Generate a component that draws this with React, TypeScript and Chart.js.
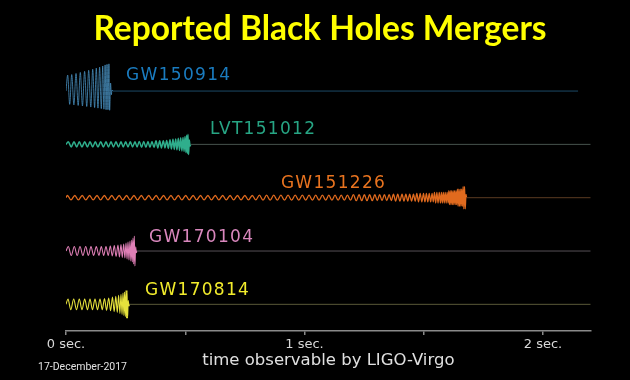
import React, { useEffect, useRef } from 'react';
import { Chart, registerables } from 'chart.js';

Chart.register(...registerables);

// ---------- text ----------
const TITLE = 'Reported Black Holes Mergers';
const X_TITLE = 'time observable by LIGO-Virgo';
const DATE_NOTE = '17-December-2017';
const EVENTS = ['GW150914', 'LVT151012', 'GW151226', 'GW170104', 'GW170814'];
const X_TICK_VALUES = [0, 0.5, 1, 1.5, 2];
const X_TICK_LABELS = ['0 sec.', '', '1 sec.', '', '2 sec.'];

// ---------- waveform data: time (s) of each extremum and strain (arb. units) ----------
const t150914 = [0,
  0.007, 0.0155, 0.024, 0.033, 0.042, 0.051, 0.060, 0.069, 0.078, 0.087,
  0.095, 0.104, 0.112, 0.120, 0.127, 0.134, 0.141, 0.148, 0.154, 0.159,
  0.164, 0.168, 0.172, 0.176, 0.180, 0.183,
  0.187, 0.190, 0.193, 0.197, 2.147];
const h150914 = [0,
  0.30, -0.25, 0.31, -0.26, 0.33, -0.27, 0.35, -0.28, 0.37, -0.29,
  0.39, -0.30, 0.41, -0.31, 0.43, -0.32, 0.45, -0.33, 0.47, -0.34,
  0.49, -0.35, 0.50, -0.35, 0.51, -0.36,
  0.15, -0.07, 0.02, 0, 0];

const tLVT151012 = [0,
  0.0096, 0.022, 0.0335, 0.045, 0.0558, 0.067, 0.0784, 0.090, 0.1006, 0.112,
  0.1229, 0.134, 0.1455, 0.157, 0.1677, 0.178, 0.1887, 0.199, 0.2096, 0.220,
  0.2306, 0.240, 0.2503, 0.260, 0.2696, 0.279, 0.2893, 0.298,
  0.3073, 0.317, 0.3258, 0.335, 0.3438, 0.352, 0.3606, 0.369,
  0.3774, 0.385, 0.3929, 0.400, 0.4080, 0.415,
  0.4222, 0.429, 0.4361, 0.442, 0.4486, 0.454, 0.4600, 0.465, 0.4709, 0.476,
  0.4809, 0.486, 0.4906, 0.495, 0.4990, 0.503, 0.5061, 0.509, 0.5115, 0.514,
  0.517, 0.520, 0.523, 2.2];
const hLVT151012 = [0,
  0.047, -0.047, 0.047, -0.047, 0.047, -0.047, 0.047, -0.047, 0.047, -0.047,
  0.047, -0.047, 0.047, -0.047, 0.047, -0.047, 0.047, -0.047, 0.047, -0.047,
  0.047, -0.047, 0.047, -0.047, 0.047, -0.047, 0.047, -0.047,
  0.056, -0.056, 0.056, -0.056, 0.056, -0.056, 0.056, -0.056,
  0.066, -0.066, 0.066, -0.066, 0.066, -0.066,
  0.075, -0.075, 0.085, -0.085, 0.094, -0.094, 0.103, -0.103, 0.113, -0.113,
  0.122, -0.122, 0.131, -0.131, 0.15, -0.15, 0.17, -0.17, 0.19, -0.19,
  0.08, -0.03, 0, 0];

const t151226 = [0,
  0.006, 0.021, 0.037, 0.052, 0.068, 0.083, 0.099, 0.114, 0.130, 0.145,
  0.161, 0.176, 0.192, 0.207, 0.223, 0.238, 0.254, 0.269, 0.285, 0.300,
  0.316, 0.331, 0.347, 0.362, 0.378, 0.393, 0.409, 0.424, 0.440, 0.455,
  0.471, 0.486, 0.502, 0.517, 0.533, 0.548, 0.564, 0.579, 0.595, 0.610,
  0.626, 0.641, 0.657, 0.672, 0.688, 0.703, 0.719, 0.734, 0.750, 0.765,
  0.781, 0.796,
  0.811, 0.826, 0.841, 0.856, 0.871, 0.886, 0.901, 0.916, 0.931, 0.946, 0.961, 0.976, 0.991, 1.005,
  1.019, 1.033, 1.047, 1.061, 1.075, 1.089,
  1.102, 1.115, 1.128, 1.141, 1.154, 1.167, 1.180, 1.193,
  1.205, 1.217, 1.229, 1.240,
  1.251, 1.262, 1.273, 1.284, 1.295, 1.305,
  1.315, 1.325, 1.335, 1.345, 1.355, 1.364,
  1.373, 1.382, 1.391, 1.400, 1.409, 1.417,
  1.425, 1.433, 1.441, 1.449, 1.457, 1.464,
  1.471, 1.478, 1.485, 1.492, 1.499, 1.505,
  1.511, 1.517, 1.523, 1.529, 1.535, 1.540,
  1.545, 1.550, 1.555, 1.560, 1.565, 1.570,
  1.574, 1.578, 1.582, 1.586, 1.590, 1.594, 1.598, 1.602,
  1.605, 1.608, 1.611, 1.614, 1.617, 1.620, 1.623, 1.626, 1.629, 1.632, 1.635, 1.638,
  1.641, 1.644, 1.647, 1.650, 1.653, 1.656, 1.659, 1.662,
  1.665, 1.668, 1.671, 1.674,
  1.677, 1.680, 2.2];
const h151226 = [0,
  0.041, -0.041, 0.041, -0.041, 0.041, -0.041, 0.041, -0.041, 0.041, -0.041,
  0.041, -0.041, 0.041, -0.041, 0.041, -0.041, 0.041, -0.041, 0.041, -0.041,
  0.041, -0.041, 0.041, -0.041, 0.041, -0.041, 0.041, -0.041, 0.041, -0.041,
  0.041, -0.041, 0.041, -0.041, 0.041, -0.041, 0.041, -0.041, 0.041, -0.041,
  0.041, -0.041, 0.041, -0.041, 0.041, -0.041, 0.041, -0.041, 0.041, -0.041,
  0.041, -0.041,
  0.047, -0.047, 0.047, -0.047, 0.047, -0.047, 0.047, -0.047, 0.047, -0.047, 0.047, -0.047, 0.047, -0.047,
  0.047, -0.047, 0.047, -0.047, 0.047, -0.047,
  0.047, -0.047, 0.047, -0.047, 0.047, -0.047, 0.047, -0.047,
  0.056, -0.056, 0.056, -0.056,
  0.056, -0.056, 0.056, -0.056, 0.056, -0.056,
  0.056, -0.056, 0.056, -0.056, 0.056, -0.056,
  0.066, -0.066, 0.066, -0.066, 0.066, -0.066,
  0.066, -0.066, 0.066, -0.066, 0.066, -0.066,
  0.08, -0.08, 0.08, -0.08, 0.08, -0.08,
  0.08, -0.08, 0.08, -0.08, 0.08, -0.08,
  0.10, -0.10, 0.10, -0.10, 0.10, -0.10,
  0.10, -0.10, 0.10, -0.10, 0.10, -0.10, 0.10, -0.10,
  0.13, -0.13, 0.13, -0.13, 0.13, -0.13, 0.13, -0.13, 0.13, -0.13, 0.13, -0.13,
  0.16, -0.16, 0.16, -0.16, 0.16, -0.16, 0.16, -0.16,
  0.21, -0.21, 0.21, -0.21,
  0.06, 0, 0];

const t170104 = [0,
  0.0096, 0.022, 0.0348, 0.047, 0.0587, 0.071, 0.0826, 0.094, 0.1048, 0.116,
  0.1270, 0.138, 0.1480, 0.158, 0.1677, 0.177, 0.1858, 0.194, 0.2025, 0.210,
  0.2180, 0.224, 0.2306, 0.236, 0.2419, 0.247, 0.2516, 0.256, 0.2600, 0.264,
  0.2683, 0.272, 0.2755, 0.278, 0.2809, 0.284, 0.2864, 0.289,
  0.292, 0.295, 0.298, 2.2];
const h170104 = [0,
  0.084, -0.084, 0.084, -0.084, 0.084, -0.084, 0.084, -0.084, 0.084, -0.084,
  0.084, -0.084, 0.084, -0.084, 0.084, -0.084, 0.094, -0.094, 0.103, -0.103,
  0.113, -0.113, 0.122, -0.122, 0.131, -0.131, 0.15, -0.15, 0.169, -0.169,
  0.188, -0.188, 0.206, -0.206, 0.244, -0.244, 0.28, -0.28,
  0.08, -0.03, 0, 0];

const t170814 = [0,
  0.0084, 0.020, 0.0323, 0.044, 0.0558, 0.067, 0.0784, 0.090, 0.1006, 0.111,
  0.1216, 0.132, 0.1426, 0.152, 0.1614, 0.170, 0.1790, 0.187, 0.1950, 0.202,
  0.2088, 0.215, 0.2206, 0.226, 0.2306, 0.235, 0.2390, 0.243, 0.2457, 0.249,
  0.2516, 0.254, 0.2558, 0.258,
  0.261, 0.264, 0.267, 2.2];
const h170814 = [0,
  0.10, -0.10, 0.10, -0.10, 0.10, -0.10, 0.10, -0.10, 0.10, -0.10,
  0.10, -0.10, 0.10, -0.10, 0.11, -0.11, 0.12, -0.12, 0.135, -0.135,
  0.15, -0.15, 0.17, -0.17, 0.19, -0.19, 0.21, -0.21, 0.23, -0.23,
  0.26, -0.26, 0.26, -0.26,
  0.07, -0.03, 0, 0];

const TIMES = [t150914, tLVT151012, t151226, t170104, t170814];
const STRAINS = [h150914, hLVT151012, h151226, h170104, h170814];

// label anchors (time of label start, height above its track)
const LABEL_T = [0.252, 0.604, 0.901, 0.348, 0.331];
const LABEL_DY = [0.29, 0.27, 0.257, 0.26, 0.25];

// ---------- styling ----------
const TRACK_OFFSETS = [4.5, 3.5, 2.5, 1.5, 0.5];
const LINE_COLORS = ['#4a92c2', '#2fae8c', '#e06a1e', '#df7fb6', '#e6e23c'];
const LINE_WIDTHS = [0.8, 1.5, 1.3, 1.1, 1.1];
const LABEL_COLORS = ['#1a7cc0', '#27a584', '#e8731f', '#d987bd', '#f2ec2c'];
const DIM_COLORS = ['#1c4a66', '#46524d', '#5b3a22', '#555055', '#5a5838'];

const overlayPlugin = {
  id: 'overlayText',
  afterDatasetsDraw(chart: any) {
    const { ctx, scales } = chart;
    const x = scales.x;
    const y = scales.y;
    ctx.save();
    ctx.font = '17px "DejaVu Sans"';
    ctx.textBaseline = 'middle';
    ctx.textAlign = 'left';
    (ctx as any).letterSpacing = '1.3px';
    EVENTS.forEach((name, i) => {
      ctx.fillStyle = LABEL_COLORS[i];
      ctx.fillText(
        name,
        x.getPixelForValue(LABEL_T[i]),
        y.getPixelForValue(TRACK_OFFSETS[i] + LABEL_DY[i])
      );
    });
    (ctx as any).letterSpacing = '0px';
    ctx.font = '10.5px Roboto';
    ctx.fillStyle = '#e2e2e2';
    ctx.textAlign = 'center';
    ctx.fillText(DATE_NOTE, 82.5, 367);
    ctx.restore();
  },
};

export default function App() {
  const canvasRef = useRef<HTMLCanvasElement | null>(null);

  useEffect(() => {
    document.body.style.margin = '0';
    document.body.style.background = '#000';
    const canvas = canvasRef.current;
    if (!canvas) return;

    const datasets = EVENTS.map((name, i) => {
      const times = TIMES[i];
      const strain = STRAINS[i];
      const n = times.length;
      return {
        label: name,
        data: times.map((t, k) => ({ x: t, y: TRACK_OFFSETS[i] + strain[k] })),
        borderColor: LINE_COLORS[i],
        borderWidth: LINE_WIDTHS[i],
        pointRadius: 0,
        fill: false,
        cubicInterpolationMode: 'monotone' as const,
        segment: {
          borderColor: (c: any) => (c.p0DataIndex >= n - 2 ? DIM_COLORS[i] : undefined),
          borderWidth: (c: any) => (c.p0DataIndex >= n - 2 ? 1 : undefined),
        },
      };
    });

    const chart = new Chart(canvas, {
      type: 'line',
      data: { datasets },
      options: {
        animation: false,
        responsive: false,
        devicePixelRatio: 1,
        events: [],
        parsing: false,
        layout: { padding: { left: 49.3, right: 39.3, top: 0, bottom: 0 } },
        plugins: {
          legend: { display: false },
          tooltip: { enabled: false },
          title: {
            display: true,
            text: TITLE,
            color: '#ffff00',
            font: { family: 'Lato', size: 33.5, weight: 'bold', lineHeight: 1.2 },
            padding: { top: 9, bottom: 2.4 },
          },
        },
        scales: {
          x: {
            type: 'linear',
            min: 0,
            max: 2.2,
            border: { display: true, color: '#8a8a8a', width: 1.5 },
            grid: {
              display: true,
              drawOnChartArea: false,
              drawTicks: true,
              tickLength: 4,
              color: '#8a8a8a',
              lineWidth: 1.5,
            },
            afterBuildTicks: (scale: any) => {
              scale.ticks = X_TICK_VALUES.map((v) => ({ value: v }));
            },
            afterFit: (scale: any) => {
              scale.height = 49;
            },
            ticks: {
              autoSkip: false,
              maxRotation: 0,
              padding: 3,
              color: '#d8d8d8',
              font: { family: 'DejaVu Sans', size: 13, lineHeight: 1 },
              callback: (_v: any, idx: number) => X_TICK_LABELS[idx],
            },
            title: {
              display: true,
              text: X_TITLE,
              color: '#e0e0e0',
              font: { family: 'DejaVu Sans', size: 16.5, lineHeight: 1.2 },
              padding: { top: 0, bottom: 9 },
            },
          },
          y: {
            display: true,
            min: 0,
            max: 5.24,
            ticks: { display: false },
            grid: { display: false },
            border: { display: false },
            afterFit: (scale: any) => {
              scale.width = 16.7;
            },
          },
        },
      },
      plugins: [overlayPlugin],
    } as any);

    return () => chart.destroy();
  }, []);

  return (
    <div style={{ width: 630, height: 380, background: '#000' }}>
      <canvas ref={canvasRef} width={630} height={380} style={{ display: 'block' }} />
    </div>
  );
}
